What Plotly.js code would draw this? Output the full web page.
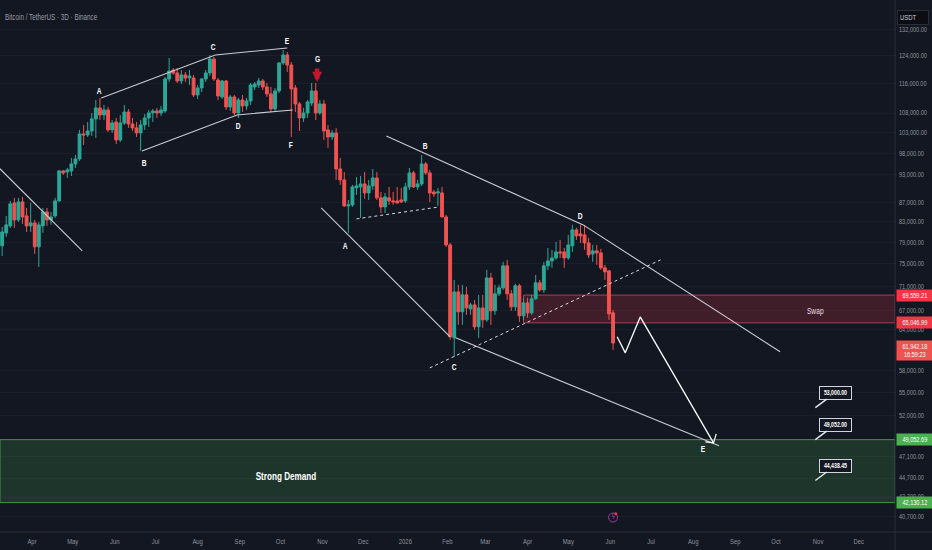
<!DOCTYPE html>
<html>
<head>
<meta charset="utf-8">
<script src="https://cdn.plot.ly/plotly-3.0.1.min.js"></script>
<style>html,body{margin:0;padding:0;background:#131722;overflow:hidden}#chart{width:932px;height:550px}</style>
</head>
<body>
<div id="chart"></div>
<script>
const firstBar = '2025-03-07';
const opens = [86710,78350,80840,82220,86920,83420,87130,84230,82220,82820,78160,82220,85040,83420,84230,87340,93900,93670,93900,95500,
96660,102680,102430,103420,106470,109340,107500,108810,103680,105700,101200,105440,108280,105190,104180,102930,104940,106730,108020,108540,
108020,108540,117270,119840,118980,116700,118410,117550,117550,112820,114750,117270,118980,123070,116980,112280,116700,109600,112280,108020,
111470,109870,111200,115030,115580,116700,115030,113100,109070,113920,121890,124270,121300,114750,110400,106730,108020,110660,113920,108020,
110400,103680,101930,102930,94360,91880,86290,86500,90120,90340,91000,89040,90560,92320,87980,86080,87980,87340,87340,87550,
87340,90340,93450,90340,91000,95500,93450,89250,89040,89040,84030,78530,62730,70100,66800,69600,67280,67930,64430,67440,
65520,72510,66960,69770,70790,74650,69770,67610,71140,66160,68260,66640,68930,71650,70440,74650,75550,76100,77210,77210,
76100,78350,81430,80650,80450,78910,76840,77400,77030,74290,73750,66640];
const highs = [87550,82020,84230,87340,87980,87980,88190,85870,86920,83420,83020,85870,85870,85040,87980,94130,94130,94590,96900,97600,
103680,104940,105700,108020,111470,112010,110130,109600,106210,106730,107500,110130,109070,106730,105700,106210,107760,108810,109070,109340,
109870,117840,123370,120430,120430,119840,119270,119840,118410,115580,117550,119840,124270,123670,117550,116980,116980,112820,112820,112010,
112820,112010,116140,116420,117550,117270,116140,115030,114750,122180,125780,125170,122180,115580,110930,109340,111470,116140,116140,111470,
111470,104940,103680,104180,96900,93670,87550,90780,92540,92760,93670,91880,94360,93670,89250,89040,90340,89250,90340,90120,
91220,94590,93900,91880,97600,95960,94130,89690,90120,90340,84430,78910,72160,71310,71310,70970,68260,68760,69600,69600,
73930,73390,71310,71310,75370,75740,70440,71480,71480,69090,69090,69600,73040,72160,75370,77960,77590,79100,79480,77960,
80450,82420,81820,82420,82420,79870,78530,78530,77780,74830,73930,67120];
const lows = [77590,76470,80060,81820,81820,83020,82620,81030,81030,76840,74470,80840,82220,82420,83830,87130,92990,92320,92760,94590,
96190,99990,101930,102180,101690,106210,106210,103170,102930,100230,100710,104940,104180,103420,101930,98550,103680,104430,105700,106730,
107240,108020,116420,118410,116140,115860,116420,115580,112280,111740,113640,116420,118120,116700,111470,111740,108810,108540,107500,106730,
108280,108810,110130,114190,114750,114190,112280,108280,108280,113370,121300,119270,101930,108280,103420,105700,106730,109870,106210,107500,
101200,99270,101200,91880,90780,86080,80840,86080,88620,83830,87760,87550,89690,87550,84820,84820,86500,86500,86710,86920,
86920,89690,90120,89690,90560,92990,87130,88190,86290,83830,78160,62430,59920,64740,64740,66320,66320,63960,62730,64270,
65200,64740,66320,69430,70440,68760,66960,66960,65200,65520,65840,66320,68760,70100,69930,73930,74290,75740,76100,74290,
75740,77210,79480,78910,77590,76100,75370,74830,73930,72160,65520,60940];
const closes = [78350,81030,82420,86710,83420,87130,84030,82220,82820,78160,82420,85040,83420,84030,87340,93900,93450,94130,95500,96660,
102680,102430,103420,106470,109340,107500,108810,103680,105440,101200,105440,108280,105190,104180,102930,104940,106730,108020,108540,108020,
108810,117270,119550,118980,116700,118410,117550,118120,112820,114750,117270,118980,123070,117270,112550,116700,109600,112280,108020,111470,
109870,111200,115580,115860,116700,115030,113100,109070,113920,121890,124270,121300,114470,110400,106730,108020,110930,113920,108020,110400,
103420,101930,102930,94360,91880,86290,86500,90340,90560,91000,89040,90560,92320,87980,86080,88190,87340,87130,86920,87130,
90340,93450,90340,91000,95500,93450,89040,88830,89250,84030,78530,62890,70100,66800,69600,67440,67930,64430,67440,65520,
72510,66960,69770,70790,74650,69770,67610,71140,66160,68260,66640,68930,71650,70440,74650,75550,76100,77210,77030,76100,
78530,81430,80260,80260,78910,76650,77400,77030,74290,73570,66480,61942.18];

const monthTicks = ['2025-04-01','2025-05-01','2025-06-01','2025-07-01','2025-08-01','2025-09-01','2025-10-01','2025-11-01','2025-12-01','2026-01-01','2026-02-01','2026-03-01','2026-04-01','2026-05-01','2026-06-01','2026-07-01','2026-08-01','2026-09-01','2026-10-01','2026-11-01','2026-12-01'];
const monthLabels = ['Apr','May','Jun','Jul','Aug','Sep','Oct','Nov','Dec','2026','Feb','Mar','Apr','May','Jun','Jul','Aug','Sep','Oct','Nov','Dec'];
const priceTicks = [132000,124000,116000,108000,103000,98000,93000,87000,83000,79000,75000,71000,67000,64000,58000,55000,52000,47100,44700,42700,40700];

const trendLines = [
  {d:['2025-03-08','2025-05-08'], p:[94500,77400], w:1.1, c:'#c9ccd3', dash:'solid'},
  {d:['2025-05-22','2025-08-14','2025-10-06'], p:[112010,124270,126390], w:1.1, c:'#c9ccd3', dash:'solid'},
  {d:['2025-06-21','2025-08-30','2025-10-10'], p:[98550,107500,108806], w:1.1, c:'#c9ccd3', dash:'solid'},
  {d:['2025-12-18','2026-05-12','2026-10-04'], p:[102180,82420,60650], w:1.1, c:'#c9ccd3', dash:'solid'},
  {d:['2025-10-31','2026-02-03'], p:[85870,62890], w:1.1, c:'#c9ccd3', dash:'solid'},
  {d:['2026-02-07','2026-08-20'], p:[62730,48320], w:1.1, c:'#c9ccd3', dash:'solid'},
  {d:['2025-11-26','2026-01-26'], p:[83620,86080], w:1, c:'#d8dae0', dash:'3px,3px'},
  {d:['2026-01-19','2026-07-08'], p:[58340,75736], w:1, c:'#d8dae0', dash:'3px,3px'},
  {d:['2026-06-06','2026-06-12','2026-06-23','2026-08-16'], p:[62890,60500,65990,48670], w:1.3, c:'#ffffff', dash:'solid'},
  {d:['2026-08-10','2026-08-16','2026-08-18'], p:[48790,48670,49740], w:1.2, c:'#ffffff', dash:'solid'}
];

const waveNames = ['A','B','C','D','E','F','G','A','B','C','D','E'];
const waveDates = ['2025-05-21','2025-06-23','2025-08-13','2025-08-31','2025-10-06','2025-10-09','2025-10-28','2025-11-18','2026-01-16','2026-02-06','2026-05-10','2026-08-08'];
const wavePrices = [113920,95730,126750,104690,128530,99990,123070,78350,99750,58480,84230,47970];

const swapTop = 69559.21, swapBottom = 65046.99, swapStart = '2026-03-29';
const demandTop = 49052.69, demandBottom = 42130.12;
const rangeDates = ['2025-03-08 10:00','2026-12-27 16:00'];
const rangePrices = [39240,141920];

const noteDate = '2026-10-30';
const notePrices = [53000,49052,44438.45];
const noteLabels = ['53,000.00','49,052.00','44,438.45'];

const tags = [
  {p:69559.21, t:'69,559.21', c:'#f23645'},
  {p:65046.99, t:'65,046.99', c:'#f23645'},
  {p:61942.18, t:'61,942.18<br>16:59:23', c:'#ef5350', two:true},
  {p:49052.69, t:'49,052.69', c:'#4caf50'},
  {p:42130.12, t:'42,130.12', c:'#4caf50'}
];

const barDates = [];
{
  const t0 = Date.parse(firstBar + 'T00:00:00Z');
  for (let i = 0; i < closes.length; i++) barDates.push(new Date(t0 + i * 3 * 864e5).toISOString().slice(0, 10));
}

const FONT = '"Liberation Sans",sans-serif';
const UP = '#2aa897', DOWN = '#ef5350';

const traces = [];
trendLines.slice(0, 8).forEach(l => traces.push({type:'scatter',mode:'lines',x:l.d,y:l.p,line:{color:l.c,width:l.w,dash:l.dash},hoverinfo:'skip',showlegend:false}));
traces.push({type:'candlestick',x:barDates,open:opens,high:highs,low:lows,close:closes,
  increasing:{line:{color:UP,width:1},fillcolor:UP},decreasing:{line:{color:DOWN,width:1},fillcolor:DOWN},
  whiskerwidth:0,showlegend:false,hoverinfo:'skip'});
trendLines.slice(8).forEach(l => traces.push({type:'scatter',mode:'lines',x:l.d,y:l.p,line:{color:l.c,width:l.w,dash:l.dash},hoverinfo:'skip',showlegend:false}));
traces.push({type:'scatter',mode:'markers',x:['2026-06-03'],y:[40640],marker:{symbol:'circle-open',size:9,color:'#a03a9c',line:{width:1,color:'#a03a9c'}},hoverinfo:'skip',showlegend:false});
traces.push({type:'scatter',mode:'markers',x:['2026-06-05'],y:[41020],marker:{symbol:'circle',size:3,color:'#f23645'},hoverinfo:'skip',showlegend:false});

const annotations = [];
waveNames.forEach((n, i) => annotations.push({x:waveDates[i],y:Math.log10(wavePrices[i]),xref:'x',yref:'y',text:'<b>'+n+'</b>',showarrow:false,font:{family:FONT,size:9,color:'#ffffff'}}));
annotations.push({x:'2025-10-28',y:Math.log10(116420),xref:'x',yref:'y',ax:0,ay:-15,text:'',showarrow:true,arrowhead:2,arrowsize:0.45,arrowwidth:4.5,arrowcolor:'#c2182b',standoff:0});
annotations.push({x:'2025-10-05',y:Math.log10(44950),xref:'x',yref:'y',text:'<b>Strong Demand</b>',showarrow:false,font:{family:FONT,size:11,color:'#ffffff'}});
annotations.push({x:noteDate,y:Math.log10(66960),xref:'x',yref:'y',text:'Swap',showarrow:false,font:{family:FONT,size:9,color:'#e8dfe3'}});
annotations.push({x:'2026-06-03',y:Math.log10(40640),xref:'x',yref:'y',text:'ϟ',showarrow:false,font:{family:'DejaVu Sans',size:7,color:'#c45ac0'}});
notePrices.forEach((p, i) => annotations.push({x:noteDate,y:Math.log10(p),xref:'x',yref:'y',ax:20,ay:-15,text:'<b>'+noteLabels[i]+'</b>',showarrow:true,arrowhead:0,arrowwidth:1.4,arrowcolor:'#e6e8ee',standoff:0,
  bgcolor:'#131722',bordercolor:'#d1d4dc',borderwidth:1,borderpad:2,width:27,font:{family:FONT,size:7,color:'#ffffff'}}));
tags.forEach(t => annotations.push({xref:'paper',yref:'y',x:1,y:Math.log10(t.p),xanchor:'left',xshift:1,yshift:t.two?-7:0,text:t.t,showarrow:false,bgcolor:t.c,borderpad:2,width:32,font:{family:FONT,size:6.5,color:'#ffffff'}}));
annotations.push({xref:'paper',yref:'paper',x:1,y:0.981,xanchor:'left',xshift:2,text:'USDT',showarrow:false,bgcolor:'#0b0d13',bordercolor:'#2a2e39',borderwidth:1,borderpad:2,width:26,align:'left',font:{family:FONT,size:8,color:'#d1d4dc'}});
annotations.push({xref:'paper',yref:'paper',x:0,y:0.981,xanchor:'left',xshift:3,align:'left',text:'Bitcoin / TetherUS · 3D · Binance',showarrow:false,font:{family:FONT,size:8.5,color:'#9a9da6'}});

const shapes = [
  {type:'rect',xref:'x',yref:'y',x0:swapStart,x1:rangeDates[1],y0:swapBottom,y1:swapTop,fillcolor:'rgba(242,54,69,0.2)',line:{color:'#a8405a',width:1},layer:'between'},
  {type:'rect',xref:'x',yref:'y',x0:rangeDates[0],x1:rangeDates[1],y0:demandBottom,y1:demandTop,fillcolor:'rgba(76,175,80,0.2)',line:{color:'#468f4a',width:1},layer:'between'},
  {type:'line',xref:'paper',yref:'paper',x0:1,x1:1,y0:-0.034,y1:1,line:{color:'#2a2e39',width:1}},
  {type:'line',xref:'paper',yref:'paper',x0:0,x1:1.042,y0:0,y1:0,line:{color:'#2a2e39',width:1}}
];

const layout = {
  width:932,height:550,
  margin:{l:0,r:37,t:0,b:18,pad:0},
  paper_bgcolor:'#131722',plot_bgcolor:'#131722',
  showlegend:false,
  boxgap:0.3,boxgroupgap:0,
  xaxis:{type:'date',range:rangeDates,tickmode:'array',tickvals:monthTicks,ticktext:monthLabels,ticks:'',showgrid:false,zeroline:false,rangeslider:{visible:false},fixedrange:true,ticklabelstandoff:3,
    tickfont:{family:FONT,size:8,color:'#8f939c'}},
  yaxis:{type:'log',side:'right',range:rangePrices.map(Math.log10),tickmode:'array',tickvals:priceTicks,ticktext:priceTicks.map(v=>v.toLocaleString('en-US',{minimumFractionDigits:2})),ticks:'',showgrid:true,gridcolor:'#1a1e2a',gridwidth:1,zeroline:false,fixedrange:true,automargin:false,ticklabelstandoff:3,
    tickfont:{family:FONT,size:6.5,color:'#8f939c'}},
  annotations,shapes
};
Plotly.newPlot('chart',traces,layout,{displayModeBar:false,staticPlot:true}).then(gd => {
  // The reference's type is narrow: condense the real text elements horizontally.
  gd.querySelectorAll('svg text').forEach(t => {
    const size = parseFloat(t.style.fontSize) || 8;
    const squeeze = size <= 6.5 ? 0.86 : 0.74;
    const lines = t.querySelectorAll('tspan.line');
    const targets = lines.length ? Array.from(lines) : [t];
    targets.forEach(el => {
      const w = el.getComputedTextLength();
      if (w > 0) { el.setAttribute('textLength', (w * squeeze).toFixed(2)); el.setAttribute('lengthAdjust', 'spacingAndGlyphs'); }
    });
  });
});
</script>
</body>
</html>
